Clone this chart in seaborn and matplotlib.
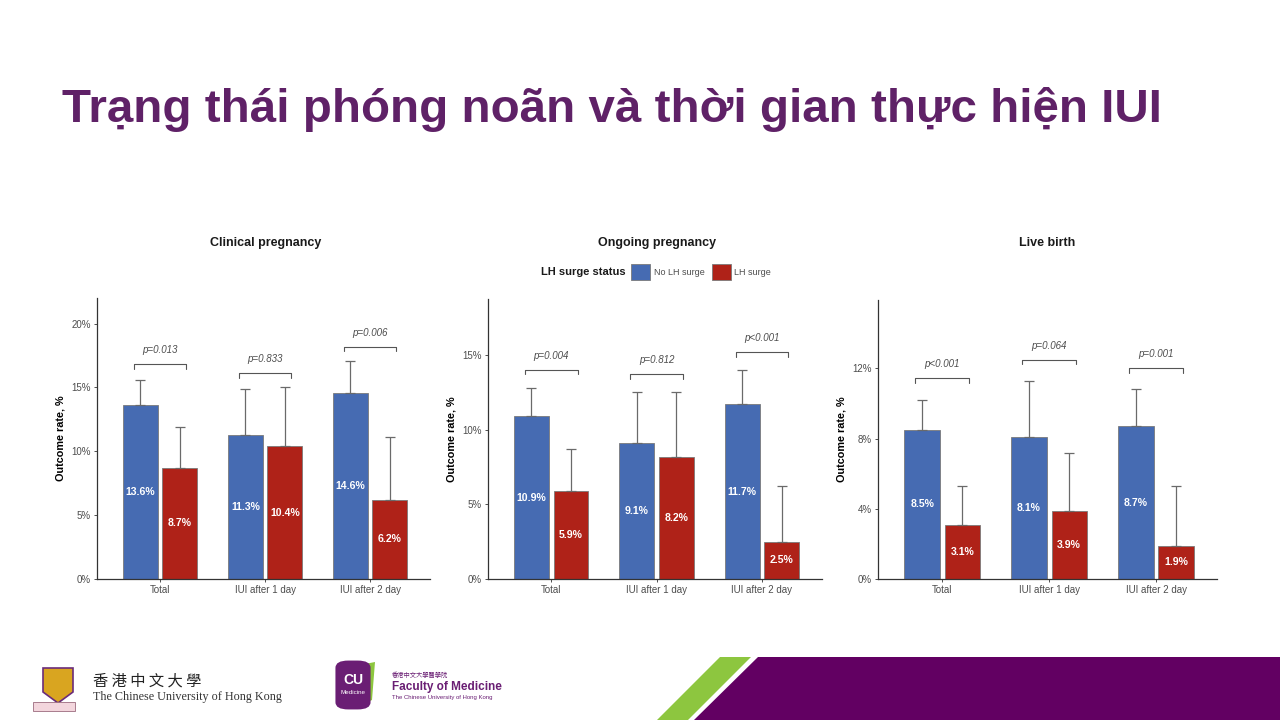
import numpy as np
import pandas as pd
import matplotlib
matplotlib.use("Agg")
import matplotlib.pyplot as plt
from matplotlib.patches import Patch, Polygon, Rectangle, FancyBboxPatch
import seaborn as sns

sns.set_theme(style="white")
plt.rcParams['font.family'] = ['Liberation Sans', 'DejaVu Sans']

# ---------------- data ----------------
categories = ["Total", "IUI after 1 day", "IUI after 2 day"]
statuses = ["No LH surge", "LH surge"]
panel_titles = ["Clinical pregnancy", "Ongoing pregnancy", "Live birth"]

clinical_no = [13.6, 11.3, 14.6]
clinical_lh = [8.7, 10.4, 6.2]
clinical_no_upper = [15.6, 14.9, 17.1]
clinical_lh_upper = [11.9, 15.0, 11.1]
clinical_p = ["p=0.013", "p=0.833", "p=0.006"]
clinical_bracket = [16.8, 16.1, 18.2]

ongoing_no = [10.9, 9.1, 11.7]
ongoing_lh = [5.9, 8.2, 2.5]
ongoing_no_upper = [12.8, 12.5, 14.0]
ongoing_lh_upper = [8.7, 12.5, 6.2]
ongoing_p = ["p=0.004", "p=0.812", "p<0.001"]
ongoing_bracket = [14.0, 13.7, 15.2]

live_no = [8.5, 8.1, 8.7]
live_lh = [3.1, 3.9, 1.9]
live_no_upper = [10.2, 11.3, 10.8]
live_lh_upper = [5.3, 7.2, 5.3]
live_p = ["p<0.001", "p=0.064", "p=0.001"]
live_bracket = [11.45, 12.5, 12.0]

yticks_list = [[0, 5, 10, 15, 20], [0, 5, 10, 15], [0, 4, 8, 12]]
ylims = [22.0, 18.75, 15.9]

panels = [
    (clinical_no, clinical_lh, clinical_no_upper, clinical_lh_upper, clinical_p, clinical_bracket),
    (ongoing_no, ongoing_lh, ongoing_no_upper, ongoing_lh_upper, ongoing_p, ongoing_bracket),
    (live_no, live_lh, live_no_upper, live_lh_upper, live_p, live_bracket),
]

blue = "#466BB2"
red = "#AF2218"
purple = "#5F2167"

fig = plt.figure(figsize=(12.8, 7.2), dpi=100)
W, H = 1280, 720

def fx(px):
    return px / W

def fy(py):
    return 1 - py / H

axes_px = [(97, 430, 298, 579), (488, 822, 299, 579), (878, 1217, 300, 579)]

for i, (no, lh, no_up, lh_up, pv, br) in enumerate(panels):
    l, r, t, b = axes_px[i]
    ax = fig.add_axes([fx(l), fy(b), fx(r - l), (b - t) / H])
    df = pd.DataFrame({
        "timing": categories * 2,
        "status": [statuses[0]] * 3 + [statuses[1]] * 3,
        "rate": no + lh,
    })
    sns.barplot(data=df, x="timing", y="rate", hue="status", order=categories,
                hue_order=statuses, palette=[blue, red], saturation=1, width=0.75, gap=0.12,
                errorbar=None, edgecolor="#7a7a7a", linewidth=0.6, legend=False, ax=ax)
    uppers = [no_up, lh_up]
    vals = [no, lh]
    bar_conts = list(ax.containers)
    for h, cont in enumerate(bar_conts):
        for j, bar in enumerate(cont.patches):
            xc = bar.get_x() + bar.get_width() / 2
            v = vals[h][j]
            ax.errorbar([xc], [v], yerr=[[0], [uppers[h][j] - v]], fmt="none",
                        ecolor="#6a6a6a", elinewidth=0.9, capsize=3.6, capthick=0.9, zorder=1)
            ax.text(xc, v / 2, f"{v:.1f}%", ha="center", va="center", color="white",
                    fontsize=7.6, fontweight="bold", zorder=5)
    ymax = ylims[i]
    dy = ymax * 4.5 / (b - t)
    for j in range(3):
        x0, x1 = j - 0.25, j + 0.25
        y = br[j]
        ax.plot([x0, x0, x1, x1], [y - dy, y, y, y - dy], color="#555555", lw=0.8)
        ax.text(j, y + ymax * 9 / (b - t), pv[j], ha="center", va="bottom",
                fontsize=7, style="italic", color="#4d4d4d")
    ax.set_xlim(-0.6, 2.57)
    ax.set_ylim(0, ymax)
    ax.set_yticks(yticks_list[i])
    ax.set_yticklabels([f"{v}%" for v in yticks_list[i]])
    ax.set_xlabel("")
    ax.set_ylabel("Outcome rate, %", fontsize=7.8, fontweight="bold", color="black", labelpad=4)
    ax.tick_params(axis="both", which="both", length=2.5, width=0.6, color="#333333",
                   labelsize=7, labelcolor="#4d4d4d", pad=2, left=True, bottom=True)
    for s in ["top", "right"]:
        ax.spines[s].set_visible(False)
    for s in ["left", "bottom"]:
        ax.spines[s].set_color("#333333")
        ax.spines[s].set_linewidth(0.9)
    ax.set_facecolor("white")

# panel titles
for cx, ttl in zip([266, 657, 1047], panel_titles):
    fig.text(fx(cx), fy(243), ttl, ha="center", va="center", fontsize=9, fontweight="bold", color="#1a1a1a")

# legend
fig.text(fx(626), fy(272), "LH surge status", ha="right", va="center", fontsize=8, fontweight="bold", color="#1a1a1a")
handles = [Patch(facecolor=blue, edgecolor="#7a7a7a", linewidth=0.6),
           Patch(facecolor=red, edgecolor="#7a7a7a", linewidth=0.6)]
fig.legend(handles, statuses, ncol=2, loc="center left", bbox_to_anchor=(fx(631), fy(272)),
           frameon=False, fontsize=6.5, labelcolor="#4d4d4d", handlelength=2.1, handleheight=2.3,
           handletextpad=0.4, columnspacing=0.8, borderpad=0, borderaxespad=0)

# main title
fig.text(fx(62), fy(122.5), "Trạng thái phóng noãn và thời gian thực hiện IUI", ha="left",
         va="baseline", fontsize=34.2, fontweight="bold", color=purple)

# footer decorations
fig.patches.append(Polygon([[fx(720), fy(657)], [fx(751), fy(657)], [fx(688), fy(720)], [fx(657), fy(720)]],
                           closed=True, transform=fig.transFigure, facecolor="#8DC63F", edgecolor="none"))
fig.patches.append(Polygon([[fx(758), fy(657)], [fx(1280), fy(657)], [fx(1280), fy(720)], [fx(694), fy(720)]],
                           closed=True, transform=fig.transFigure, facecolor="#620062", edgecolor="none"))

# CUHK crest
fig.patches.append(Polygon([[fx(43), fy(668)], [fx(73), fy(668)], [fx(73), fy(692)], [fx(58), fy(703)], [fx(43), fy(692)]],
                           closed=True, transform=fig.transFigure, facecolor="#D9A520", edgecolor="#6B2C7A", linewidth=1.2))
fig.patches.append(Rectangle((fx(33), fy(711)), fx(42), 9 / H, transform=fig.transFigure,
                             facecolor="#F3D6DD", edgecolor="#9B6B7E", linewidth=0.6))
fig.text(fx(93), fy(681), "香 港 中 文 大 學", ha="left", va="center", fontsize=11,
         family=["Noto Sans CJK TC", "DejaVu Sans"], color="#222222")
fig.text(fx(93), fy(697), "The Chinese University of Hong Kong", ha="left", va="center",
         fontsize=8.7, family=["Liberation Serif", "DejaVu Serif"], color="#333333")

# CU Medicine logo
fig.patches.append(Polygon([[fx(355), fy(666)], [fx(375), fy(662)], [fx(372), fy(700)], [fx(360), fy(706)]],
                           closed=True, transform=fig.transFigure, facecolor="#8DC63F", edgecolor="none"))
fig.patches.append(FancyBboxPatch((fx(338), fy(708)), fx(30), 46 / H, boxstyle="round,pad=0.002,rounding_size=0.01",
                                  transform=fig.transFigure, facecolor="#6A1E74", edgecolor="none"))
fig.text(fx(353), fy(680), "CU", ha="center", va="center", fontsize=10, fontweight="bold", color="white")
fig.text(fx(353), fy(693), "Medicine", ha="center", va="center", fontsize=4.5, color="white")
fig.text(fx(392), fy(675), "香港中文大學醫學院", ha="left", va="center", fontsize=4.5,
         family=["Noto Sans CJK TC", "DejaVu Sans"], color="#6A1E74")
fig.text(fx(392), fy(687), "Faculty of Medicine", ha="left", va="center", fontsize=8.5,
         family=["Liberation Sans Narrow", "Liberation Sans", "DejaVu Sans"], fontweight="bold", color="#6A1E74")
fig.text(fx(392), fy(698), "The Chinese University of Hong Kong", ha="left", va="center", fontsize=4.3,
         family=["Liberation Sans", "DejaVu Sans"], color="#6A1E74")

fig.savefig("out.png", dpi=100, facecolor="white")
